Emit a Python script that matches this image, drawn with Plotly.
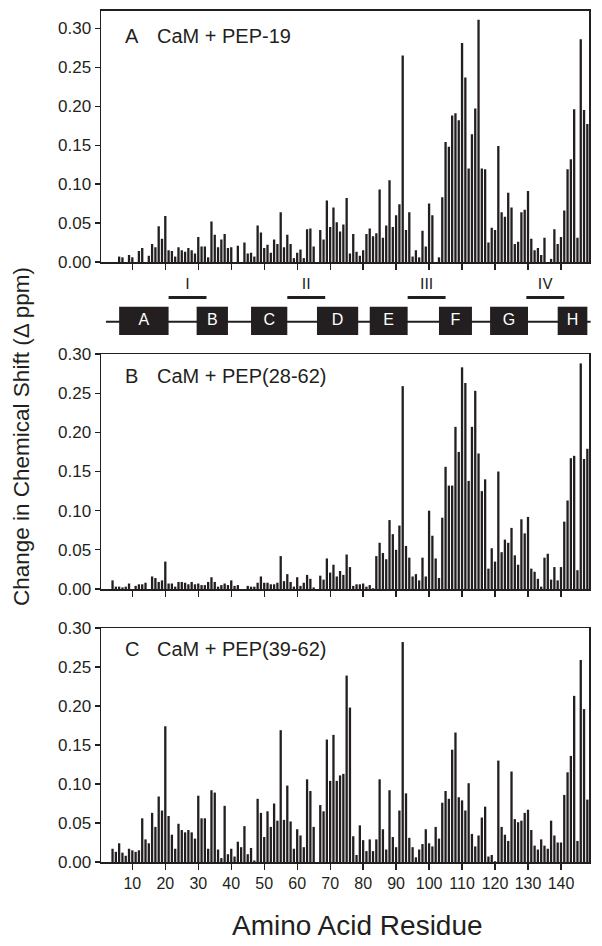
import plotly.graph_objects as go

# ---------------- data ----------------
residues = list(range(1, 149))

shift_pep19 = [
    0, 0, 0, 0, 0, 0.007, 0.006, 0, 0.009, 0.006,
    0, 0.014, 0.018, 0, 0.008, 0.023, 0.019, 0.046, 0.030, 0.059,
    0.015, 0.014, 0.007, 0.019, 0.015, 0.013, 0.018, 0.015, 0.011, 0.032,
    0.020, 0.020, 0.006, 0.052, 0.035, 0.019, 0.029, 0.036, 0.018, 0.019,
    0, 0.021, 0, 0.025, 0.011, 0.012, 0.007, 0.047, 0.038, 0.018,
    0.022, 0.012, 0.029, 0.023, 0.064, 0.019, 0.035, 0.023, 0.005, 0.012,
    0.016, 0.005, 0.042, 0.043, 0.020, 0, 0.041, 0.029, 0.079, 0.045,
    0.070, 0.051, 0.039, 0.048, 0.082, 0.011, 0.036, 0.013, 0.008, 0.015,
    0.036, 0.043, 0.033, 0.037, 0.093, 0.031, 0.047, 0.105, 0.045, 0.060,
    0.074, 0.265, 0.041, 0.064, 0.007, 0.015, 0.006, 0.040, 0.020, 0.075,
    0.060, 0, 0.006, 0.083, 0.154, 0.148, 0.188, 0.191, 0.182, 0.281,
    0.237, 0.120, 0.164, 0.197, 0.311, 0.120, 0.119, 0.025, 0.044, 0.041,
    0.149, 0.064, 0.058, 0.089, 0.070, 0.023, 0.026, 0.064, 0.067, 0.091,
    0.030, 0.015, 0.018, 0.009, 0.031, 0, 0.004, 0.042, 0.023, 0.032,
    0.066, 0.119, 0.132, 0.196, 0.031, 0.286, 0.195, 0.177,
]

shift_pep28_62 = [
    0, 0, 0, 0.011, 0.003, 0.003, 0.002, 0.003, 0.007, 0,
    0.004, 0.006, 0.006, 0.008, 0, 0.016, 0.014, 0.009, 0.011, 0.035,
    0.007, 0.007, 0.003, 0.009, 0.009, 0.008, 0.006, 0.009, 0.006, 0.007,
    0.005, 0.005, 0.009, 0.015, 0.009, 0.003, 0.005, 0.007, 0.005, 0.011,
    0.004, 0.005, 0, 0, 0.004, 0.003, 0.003, 0.008, 0.016, 0.008,
    0.008, 0.006, 0.006, 0.008, 0.042, 0.010, 0.019, 0.009, 0.003, 0.015,
    0.004, 0.008, 0.018, 0.013, 0.002, 0, 0.017, 0.012, 0.039, 0.021,
    0.031, 0.016, 0.023, 0.018, 0.044, 0.028, 0.004, 0.006, 0.006, 0.007,
    0.003, 0.005, 0.001, 0.042, 0.059, 0.046, 0.038, 0.088, 0.070, 0.050,
    0.081, 0.259, 0.055, 0.040, 0.016, 0.019, 0.011, 0.040, 0.016, 0.100,
    0.068, 0.039, 0.014, 0.091, 0.156, 0.132, 0.132, 0.207, 0.175, 0.283,
    0.263, 0.138, 0.207, 0.253, 0.173, 0.125, 0.140, 0.026, 0.052, 0.035,
    0.150, 0.047, 0.063, 0.059, 0.078, 0.043, 0.031, 0.089, 0.071, 0.092,
    0.026, 0.022, 0.013, 0.003, 0.040, 0.045, 0.012, 0.028, 0.011, 0.028,
    0.086, 0.113, 0.167, 0.170, 0.024, 0.288, 0.166, 0.179,
]

shift_pep39_62 = [
    0, 0, 0, 0.017, 0.013, 0.024, 0.012, 0.008, 0.017, 0.015,
    0.013, 0.015, 0.056, 0.029, 0.024, 0.063, 0.045, 0.084, 0.066, 0.174,
    0.059, 0.035, 0.017, 0.049, 0.041, 0.038, 0.041, 0.038, 0.030, 0.085,
    0.056, 0.056, 0.017, 0.092, 0.089, 0.016, 0.005, 0.072, 0.010, 0.017,
    0.007, 0.026, 0.019, 0.046, 0.010, 0.018, 0.002, 0.081, 0.063, 0.032,
    0.065, 0.045, 0.075, 0.053, 0.169, 0.054, 0.098, 0.052, 0.017, 0.042,
    0.034, 0.019, 0.106, 0.091, 0.045, 0, 0.073, 0.065, 0.157, 0.104,
    0.163, 0.104, 0.111, 0.113, 0.239, 0.198, 0.033, 0.009, 0.047, 0.028,
    0.014, 0.029, 0.014, 0.029, 0.106, 0.042, 0.016, 0.092, 0.032, 0.019,
    0.066, 0.282, 0.088, 0.031, 0.019, 0.006, 0.016, 0.023, 0.042, 0.024,
    0.020, 0.045, 0.030, 0.076, 0.091, 0.081, 0.144, 0.166, 0.083, 0.079,
    0.066, 0.101, 0.036, 0.020, 0.034, 0.057, 0.071, 0.007, 0.009, 0.001,
    0.130, 0.045, 0.035, 0.027, 0.116, 0.055, 0.051, 0.053, 0.063, 0.067,
    0.041, 0.021, 0.016, 0.029, 0.021, 0.017, 0.053, 0.034, 0.025, 0.025,
    0.086, 0.115, 0.136, 0.213, 0.027, 0.259, 0.196, 0.080,
]

panel_letters = ["A", "B", "C"]
panel_titles = ["CaM + PEP-19", "CaM + PEP(28-62)", "CaM + PEP(39-62)"]

y_tick_vals = [0.00, 0.05, 0.10, 0.15, 0.20, 0.25, 0.30]
y_tick_text = ["0.00", "0.05", "0.10", "0.15", "0.20", "0.25", "0.30"]
x_tick_vals = [10, 20, 30, 40, 50, 60, 70, 80, 90, 100, 110, 120, 130, 140]
x_tick_text = [str(v) for v in x_tick_vals]

helix_names = ["A", "B", "C", "D", "E", "F", "G", "H"]
helix_start = [6.0, 29.5, 46.0, 66.0, 82.0, 103.0, 118.5, 139.0]
helix_end = [21.0, 39.0, 57.0, 78.5, 93.5, 113.0, 130.0, 148.0]
loop_names = ["I", "II", "III", "IV"]
loop_start = [21.0, 57.0, 93.5, 129.5]
loop_end = [32.5, 68.5, 105.0, 141.0]
backbone_span = [2.0, 149.0]

x_title = "Amino Acid Residue"
y_title = "Change in Chemical Shift (\u0394 ppm)"

# ---------------- layout helpers ----------------
W, H = 602, 946
INK = "#231f20"
FONT = "Liberation Sans, Arial, Helvetica, sans-serif"
X_RANGE = [0.5, 148.5]
PX_L, PX_R = 101, 589


def fx(px):
    return px / W


def fy(py):
    return 1 - py / H


panel_px = [(10.7, 262.0), (354.0, 589.0), (628.0, 862.0)]
panel_ymax = [0.3226, 0.300, 0.300]
panel_label_y = [36, 376, 649]
series = [shift_pep19, shift_pep28_62, shift_pep39_62]

fig = go.Figure()
layout = dict(
    width=W, height=H,
    margin=dict(l=0, r=0, t=0, b=0),
    paper_bgcolor="white", plot_bgcolor="white",
    showlegend=False,
    font=dict(family=FONT, color=INK),
    bargap=0.3,
)
annotations = []

for i in range(3):
    n = i + 1
    xa = "x" if n == 1 else f"x{n}"
    ya = "y" if n == 1 else f"y{n}"
    fig.add_trace(go.Bar(
        x=residues, y=series[i], xaxis=xa, yaxis=ya,
        marker=dict(color=INK, line=dict(width=0)),
        hoverinfo="x+y",
    ))
    top, bot = panel_px[i]
    layout[f"xaxis{'' if n == 1 else n}"] = dict(
        domain=[fx(PX_L), fx(PX_R)], range=X_RANGE, anchor=ya,
        showline=True, mirror=True, linecolor=INK, linewidth=1.5,
        ticks="outside", ticklen=6, tickwidth=1.3, tickcolor=INK,
        tickvals=x_tick_vals, ticktext=x_tick_text,
        showticklabels=(n == 3), tickfont=dict(size=16, family=FONT, color=INK),
        showgrid=False, zeroline=False, automargin=False, fixedrange=True,
    )
    layout[f"yaxis{'' if n == 1 else n}"] = dict(
        domain=[fy(bot), fy(top)], range=[0, panel_ymax[i]], anchor=xa,
        showline=True, mirror=True, linecolor=INK, linewidth=1.5,
        ticks="outside", ticklen=5, tickwidth=1.3, tickcolor=INK,
        tickvals=y_tick_vals, ticktext=y_tick_text,
        tickfont=dict(size=17, family=FONT, color=INK),
        showgrid=False, zeroline=False, automargin=False, fixedrange=True,
    )
    annotations.append(dict(
        xref="paper", yref="paper", x=fx(123), y=fy(panel_label_y[i]),
        xanchor="left", yanchor="middle", showarrow=False,
        text=panel_letters[i], font=dict(size=20, family=FONT, color=INK),
    ))
    annotations.append(dict(
        xref="paper", yref="paper", x=fx(155), y=fy(panel_label_y[i]),
        xanchor="left", yanchor="middle", showarrow=False,
        text=panel_titles[i], font=dict(size=20, family=FONT, color=INK),
    ))

# ---------------- domain diagram ----------------
scale = (PX_R - PX_L) / (X_RANGE[1] - X_RANGE[0])
diag_range = [X_RANGE[0] - PX_L / scale, X_RANGE[1] + (W - PX_R) / scale]
DIAG_TOP, DIAG_BOT = 278.0, 342.0
layout["xaxis4"] = dict(domain=[0, 1], range=diag_range, anchor="y4",
                        visible=False, fixedrange=True)
layout["yaxis4"] = dict(domain=[fy(DIAG_BOT), fy(DIAG_TOP)], range=[0, 1],
                        anchor="x4", visible=False, fixedrange=True)


def dy(py):
    return (DIAG_BOT - py) / (DIAG_BOT - DIAG_TOP)


line_y = dy(321.7)
box_c = dy((306.7 + 335.0) / 2)
box_h = dy(306.7) - dy(335.0)
loop_y = dy(297.5)
loop_lab_y = dy(285.0)

fig.add_trace(go.Scatter(
    x=backbone_span, y=[line_y, line_y], xaxis="x4", yaxis="y4",
    mode="lines", line=dict(color=INK, width=2), hoverinfo="skip",
))
fig.add_trace(go.Bar(
    y=[box_c] * len(helix_names), x=[e - s for s, e in zip(helix_start, helix_end)],
    base=helix_start, orientation="h", width=box_h,
    xaxis="x4", yaxis="y4", marker=dict(color=INK, line=dict(width=0)),
    hoverinfo="skip",
))
lx, ly = [], []
for s, e in zip(loop_start, loop_end):
    lx += [s, e, None]
    ly += [loop_y, loop_y, None]
fig.add_trace(go.Scatter(
    x=lx, y=ly, xaxis="x4", yaxis="y4", mode="lines",
    line=dict(color=INK, width=3), hoverinfo="skip",
))
fig.add_trace(go.Scatter(
    x=[(s + e) / 2 for s, e in zip(loop_start, loop_end)],
    y=[loop_lab_y] * len(loop_names), text=loop_names,
    xaxis="x4", yaxis="y4", mode="text", textposition="middle center",
    textfont=dict(size=16, family=FONT, color=INK), hoverinfo="skip",
))
fig.add_trace(go.Scatter(
    x=[(s + e) / 2 for s, e in zip(helix_start, helix_end)],
    y=[box_c] * len(helix_names), text=helix_names,
    xaxis="x4", yaxis="y4", mode="text", textposition="middle center",
    textfont=dict(size=16, family=FONT, color="white"), hoverinfo="skip",
))

# ---------------- axis titles ----------------
annotations.append(dict(
    xref="paper", yref="paper", x=fx(357), y=fy(925),
    xanchor="center", yanchor="middle", showarrow=False,
    text=x_title, font=dict(size=28, family=FONT, color=INK),
))
annotations.append(dict(
    xref="paper", yref="paper", x=fx(21), y=fy(437),
    xanchor="center", yanchor="middle", showarrow=False, textangle=-90,
    text=y_title, font=dict(size=22.5, family=FONT, color=INK),
))

layout["annotations"] = annotations
fig.update_layout(**layout)
fig.write_html(
    "out.html",
    config={"displayModeBar": False, "staticPlot": True},
    post_script="document.body.style.margin='0';document.body.style.padding='0';",
)
